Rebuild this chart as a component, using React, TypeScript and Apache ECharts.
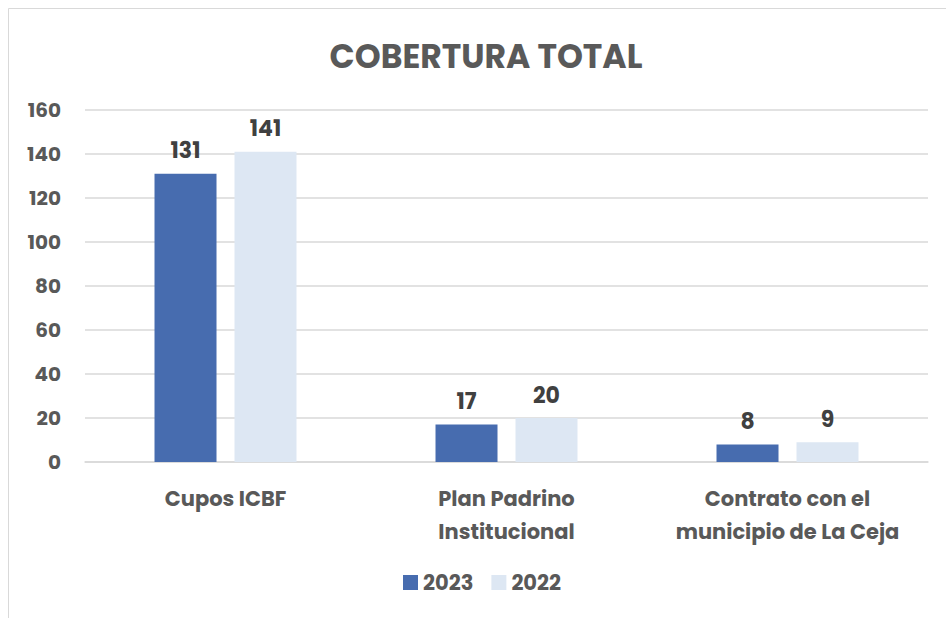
import React, { useEffect, useRef } from "react";
import * as echarts from "echarts";

const categories = ["Cupos ICBF", "Plan Padrino\nInstitucional", "Contrato con el\nmunicipio de La Ceja"];
const series2023 = [131, 17, 8];
const series2022 = [141, 20, 9];
const seriesNames = ["2023", "2022"];
const yTicks = { min: 0, max: 160, interval: 20 };

const FONT = "Poppins, 'Open Sans', Roboto, sans-serif";
const TEXT = "#595959";

export default function App() {
  const ref = useRef<HTMLDivElement>(null);
  useEffect(() => {
    const chart = echarts.init(ref.current!, null, { renderer: "svg" });
    const label = {
      show: true,
      position: "top",
      distance: 12,
      color: "#404040",
      fontFamily: FONT,
      fontWeight: "bold",
      fontSize: 22,
    };
    chart.setOption({
      animation: false,
      backgroundColor: "#ffffff",
      title: {
        text: "COBERTURA TOTAL",
        left: 481,
        top: 35,
        textAlign: "center",
        textStyle: { color: TEXT, fontFamily: FONT, fontWeight: "bold", fontSize: 33 },
      },
      graphic: [
        { type: "line", shape: { x1: 8.5, y1: 8.5, x2: 946, y2: 8.5 }, style: { stroke: "#d9d9d9", lineWidth: 1 } },
        { type: "line", shape: { x1: 8.5, y1: 8.5, x2: 8.5, y2: 618 }, style: { stroke: "#d9d9d9", lineWidth: 1 } },
      ],
      legend: {
        data: seriesNames,
        bottom: 20,
        left: 398,
        itemWidth: 15,
        itemHeight: 15,
        itemGap: 18,
        icon: "rect",
        textStyle: { color: TEXT, fontFamily: FONT, fontWeight: "bold", fontSize: 21 },
      },
      grid: { left: 85, right: 18, top: 110, height: 352 },
      xAxis: {
        type: "category",
        data: categories,
        axisLine: { show: true, lineStyle: { color: "#d9d9d9", width: 1.5 } },
        axisTick: { show: false },
        axisLabel: {
          interval: 0,
          color: TEXT,
          fontFamily: FONT,
          fontWeight: "bold",
          fontSize: 21,
          lineHeight: 33,
          margin: 20,
        },
      },
      yAxis: {
        type: "value",
        min: yTicks.min,
        max: yTicks.max,
        interval: yTicks.interval,
        axisLine: { show: false },
        axisTick: { show: false },
        splitLine: { lineStyle: { color: "#d9d9d9", width: 1.5 } },
        axisLabel: {
          color: TEXT,
          fontFamily: FONT,
          fontWeight: "bold",
          fontSize: 20,
          margin: 24,
        },
      },
      series: [
        {
          name: seriesNames[0],
          type: "bar",
          data: series2023,
          barWidth: 62,
          barGap: "29%",
          itemStyle: { color: "#476CAF" },
          label,
        },
        {
          name: seriesNames[1],
          type: "bar",
          data: series2022,
          barWidth: 62,
          itemStyle: { color: "#DDE7F3" },
          label,
        },
      ],
    });
    return () => chart.dispose();
  }, []);
  return (
    <div
      ref={ref}
      style={{ position: "fixed", left: 0, top: 0, width: 946, height: 618 }}
    />
  );
}
